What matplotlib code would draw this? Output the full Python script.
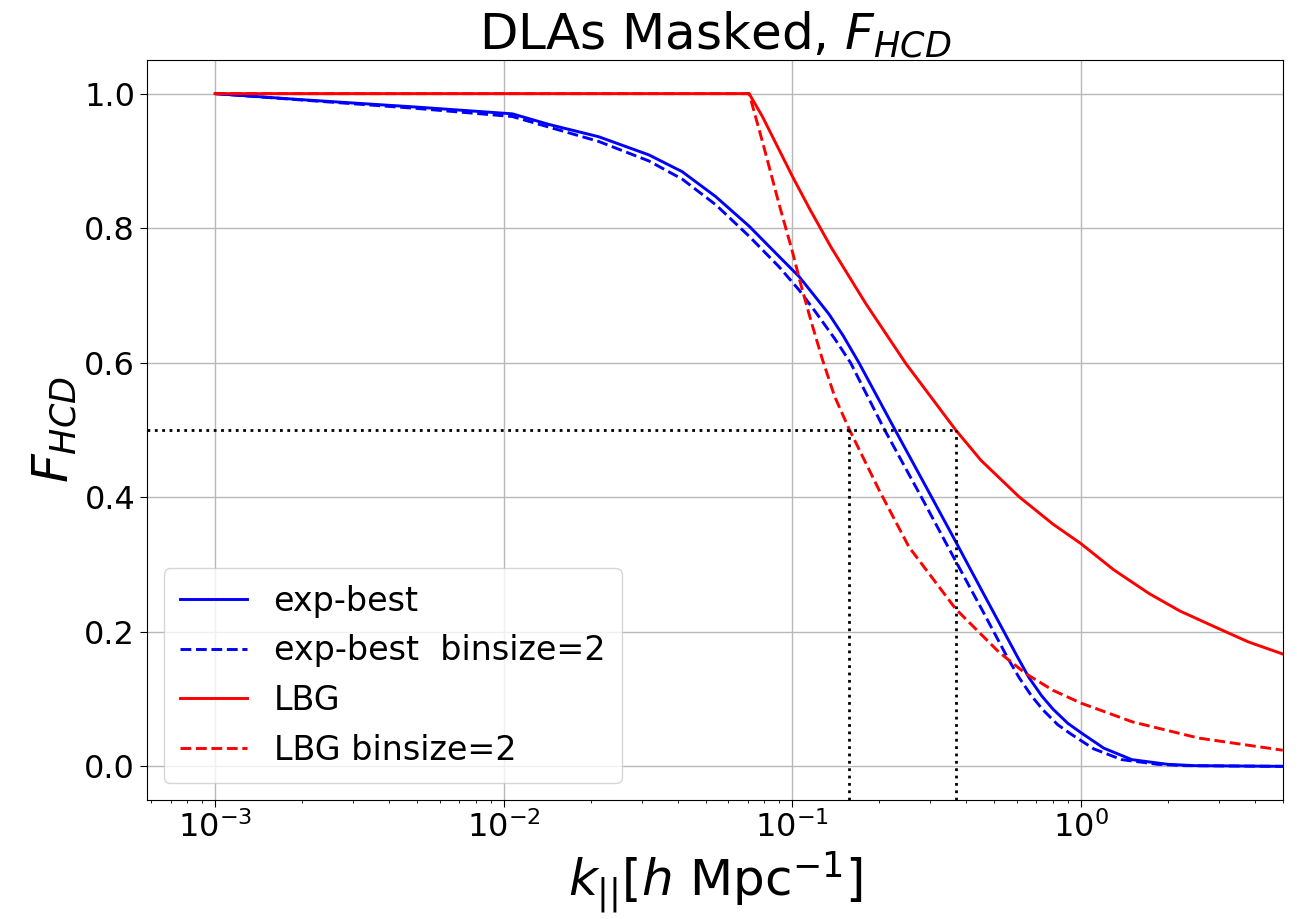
import numpy as np
import matplotlib.pyplot as plt

k_exp = [0.001, 0.002, 0.005, 0.0107, 0.0144, 0.0213, 0.0318, 0.0415, 0.0542,
         0.0708, 0.0875, 0.1055, 0.12, 0.134, 0.15, 0.17, 0.225, 0.29, 0.368,
         0.455, 0.541, 0.6, 0.66, 0.73, 0.8, 0.9, 1.0, 1.2, 1.5, 2.0, 2.5, 5.0]
f_exp = [1.0, 0.991, 0.980, 0.970, 0.954, 0.936, 0.909, 0.884, 0.847,
         0.803, 0.763, 0.728, 0.698, 0.672, 0.640, 0.600, 0.503, 0.416, 0.334,
         0.260, 0.200, 0.164, 0.132, 0.105, 0.085, 0.064, 0.050, 0.027, 0.010,
         0.003, 0.001, 0.0]

k_exp_b2 = [0.001, 0.005, 0.0107, 0.0144, 0.0213, 0.0318, 0.0415, 0.0542, 0.0708,
            0.0897, 0.1055, 0.12, 0.14, 0.159, 0.207, 0.28, 0.368, 0.455, 0.554,
            0.61, 0.673, 0.738, 0.83, 0.923, 1.107, 1.384, 1.845, 2.3, 5.0]
f_exp_b2 = [1.0, 0.978, 0.966, 0.950, 0.929, 0.900, 0.873, 0.835, 0.788,
            0.743, 0.708, 0.676, 0.636, 0.600, 0.503, 0.400, 0.305, 0.232, 0.163,
            0.132, 0.105, 0.084, 0.062, 0.048, 0.026, 0.010, 0.003, 0.001, 0.0]

k_lbg = [0.001, 0.0708, 0.0787, 0.1, 0.1143, 0.136, 0.1795, 0.247, 0.368,
         0.45, 0.609, 0.8, 1.0, 1.3, 1.72, 2.2, 2.92, 3.8, 5.0]
f_lbg = [1.0, 1.0, 0.966, 0.877, 0.830, 0.772, 0.688, 0.599, 0.500,
         0.455, 0.401, 0.360, 0.331, 0.292, 0.257, 0.231, 0.207, 0.185, 0.167]

k_lbg_b2 = [0.001, 0.0708, 0.0787, 0.09, 0.1, 0.107, 0.116, 0.1268, 0.14, 0.157,
            0.1995, 0.2535, 0.368, 0.519, 0.643, 0.8, 1.0, 1.51, 2.56, 5.0]
f_lbg_b2 = [1.0, 1.0, 0.929, 0.835, 0.765, 0.716, 0.662, 0.606, 0.550, 0.502,
            0.411, 0.326, 0.234, 0.170, 0.138, 0.113, 0.094, 0.066, 0.042, 0.024]

# k where the LBG curves drop to one half
k_half = [0.157, 0.369]
f_half = 0.5

xmin, xmax = 5.8e-4, 5.0
ymin, ymax = -0.05, 1.05

fig = plt.figure(figsize=(12.97, 9.19), dpi=100)
ax = fig.add_axes([0.1133, 0.1295, 0.8757, 0.8052])

lw = 2.1
ax.plot(k_exp, f_exp, color='blue', lw=lw, label='exp-best')
ax.plot(k_exp_b2, f_exp_b2, color='blue', lw=lw, ls='--', label='exp-best  binsize=2')
ax.plot(k_lbg, f_lbg, color='red', lw=lw, label='LBG')
ax.plot(k_lbg_b2, f_lbg_b2, color='red', lw=lw, ls='--', label='LBG binsize=2')

ax.set_xscale('log')
ax.set_xlim(xmin, xmax)
ax.set_ylim(ymin, ymax)

ax.hlines(f_half, xmin, max(k_half), colors='black', linestyles=':', lw=2)
ax.vlines(k_half, ymin, f_half, colors='black', linestyles=':', lw=2)

ax.set_yticks([0.0, 0.2, 0.4, 0.6, 0.8, 1.0])
ax.tick_params(axis='both', which='major', labelsize=23, length=5)
ax.grid(True, color='#b8b8b8', lw=1)

ax.set_title('DLAs Masked, $F_{HCD}$', fontsize=36)
ax.set_ylabel('$F_{HCD}$', fontsize=36)
ax.set_xlabel(r'$k_{||}[h\ \mathrm{Mpc}^{-1}]$', fontsize=36)

ax.legend(loc='lower left', fontsize=24, handlelength=2.0, borderpad=0.5)

fig.savefig('out.png', dpi=100)
